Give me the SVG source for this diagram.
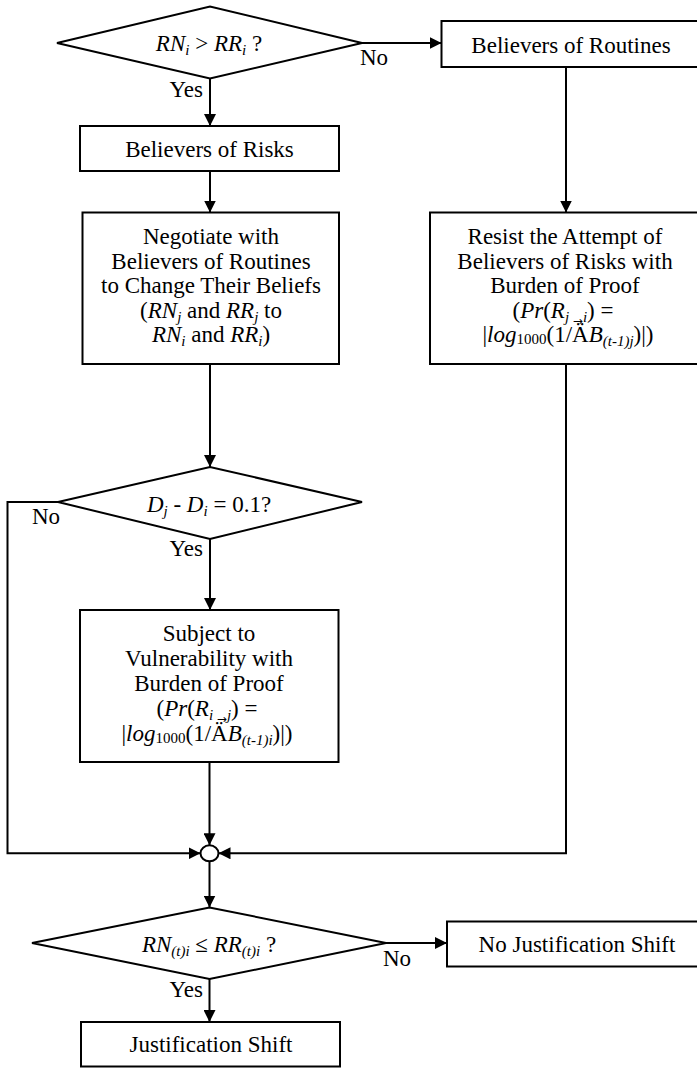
<svg xmlns="http://www.w3.org/2000/svg" width="697" height="1068" viewBox="0 0 697 1068">
<style>
.bx{fill:#fff;stroke:#000;stroke-width:2}
.ln{fill:none;stroke:#000;stroke-width:2}
.t{font-family:"Liberation Serif","Times New Roman",serif;font-size:23px;fill:#000;text-anchor:middle}
.l{font-family:"Liberation Serif","Times New Roman",serif;font-size:23px;fill:#000}
.i{font-style:italic}
.s{font-size:15px}
.a{font-family:"DejaVu Sans",sans-serif;font-size:12px;font-style:normal}
</style>
<defs>
<marker id="ar" markerUnits="userSpaceOnUse" markerWidth="12" markerHeight="12" refX="12" refY="6" orient="auto">
<path d="M0,0 L12,6 L0,12 z" fill="#000"/>
</marker>
</defs>
<rect width="697" height="1068" fill="#fff"/>
<g id="connectors">
<path class="ln" d="M362,43 L441.5,43" marker-end="url(#ar)"/>
<path class="ln" d="M210,78.5 L210,126" marker-end="url(#ar)"/>
<path class="ln" d="M210,171 L210,212.5" marker-end="url(#ar)"/>
<path class="ln" d="M566,67 L566,212.5" marker-end="url(#ar)"/>
<path class="ln" d="M210,364 L210,467" marker-end="url(#ar)"/>
<path class="ln" d="M58,502 L7.5,502 L7.5,853.3 L200.5,853.3" marker-end="url(#ar)"/>
<path class="ln" d="M210,539 L210,610" marker-end="url(#ar)"/>
<path class="ln" d="M209.5,762 L209.5,845.3" marker-end="url(#ar)"/>
<path class="ln" d="M566,364 L566,853.3 L218.5,853.3" marker-end="url(#ar)"/>
<path class="ln" d="M209.5,861.3 L209.5,907.5" marker-end="url(#ar)"/>
<path class="ln" d="M386,943 L447,943" marker-end="url(#ar)"/>
<path class="ln" d="M209.5,979 L209.5,1022" marker-end="url(#ar)"/>
<text class="l" x="360" y="65">No</text>
<text class="l" x="203" y="97" text-anchor="end">Yes</text>
<text class="l" x="32" y="524">No</text>
<text class="l" x="203" y="556" text-anchor="end">Yes</text>
<text class="l" x="383" y="966">No</text>
<text class="l" x="203" y="997" text-anchor="end">Yes</text>
</g>
<g id="d_rn_rr">
<polygon class="bx" points="57,43 210,6.5 362,43 210,78.5"/>
<text class="t" x="209" y="51"><tspan class="i">RN</tspan><tspan class="i s" dy="4">i</tspan><tspan dy="-4"> &gt; </tspan><tspan class="i">RR</tspan><tspan class="i s" dy="4">i</tspan><tspan dy="-4"> ?</tspan></text>
</g>
<g id="n_routines">
<rect class="bx" x="441.5" y="21" width="265" height="46"/>
<text class="t" x="571" y="52.5">Believers of Routines</text>
</g>
<g id="n_risks">
<rect class="bx" x="80" y="126" width="259" height="45"/>
<text class="t" x="209.5" y="156.5">Believers of Risks</text>
</g>
<g id="n_negotiate">
<rect class="bx" x="82.5" y="212.5" width="256.5" height="151.5"/>
<text class="t" x="211" y="244">Negotiate with</text>
<text class="t" x="211" y="269">Believers of Routines</text>
<text class="t" x="211" y="293">to Change Their Beliefs</text>
<text class="t" x="211" y="318">(<tspan class="i">RN</tspan><tspan class="i s" dy="4">j</tspan><tspan dy="-4"> and </tspan><tspan class="i">RR</tspan><tspan class="i s" dy="4">j</tspan><tspan dy="-4"> to</tspan></text>
<text class="t" x="211" y="342"><tspan class="i">RN</tspan><tspan class="i s" dy="4">i</tspan><tspan dy="-4"> and </tspan><tspan class="i">RR</tspan><tspan class="i s" dy="4">i</tspan><tspan dy="-4">)</tspan></text>
</g>
<g id="n_resist">
<rect class="bx" x="430" y="212.5" width="280" height="151.5"/>
<text class="t" x="565" y="244">Resist the Attempt of</text>
<text class="t" x="565" y="269">Believers of Risks with</text>
<text class="t" x="565" y="293">Burden of Proof</text>
<text class="t" x="563" y="318">(<tspan class="i">Pr</tspan>(<tspan class="i">R</tspan><tspan class="i s" dy="4">j </tspan><tspan class="a" dy="3">→</tspan><tspan class="i s" dy="-3">i</tspan><tspan dy="-4">) =</tspan></text>
<text class="t" x="568" y="342">|<tspan class="i">log</tspan><tspan class="s" dy="2">1000</tspan><tspan dy="-2">(1/Ä</tspan><tspan class="i">B</tspan><tspan class="i s" dy="4">(t-1)j</tspan><tspan dy="-4">)|)</tspan></text>
</g>
<g id="d_dj_di">
<polygon class="bx" points="58,502 210,467 362,502 210,539"/>
<text class="t" x="209" y="511.5"><tspan class="i">D</tspan><tspan class="i s" dy="4">j</tspan><tspan dy="-4"> - </tspan><tspan class="i">D</tspan><tspan class="i s" dy="4">i</tspan><tspan dy="-4"> = 0.1?</tspan></text>
</g>
<g id="n_subject">
<rect class="bx" x="80" y="610" width="258.5" height="152"/>
<text class="t" x="209" y="641">Subject to</text>
<text class="t" x="209" y="666">Vulnerability with</text>
<text class="t" x="209" y="691">Burden of Proof</text>
<text class="t" x="207" y="716">(<tspan class="i">Pr</tspan>(<tspan class="i">R</tspan><tspan class="i s" dy="4">i </tspan><tspan class="a" dy="3">→</tspan><tspan class="i s" dy="-3">j</tspan><tspan dy="-4">) =</tspan></text>
<text class="t" x="207" y="741">|<tspan class="i">log</tspan><tspan class="s" dy="2">1000</tspan><tspan dy="-2">(1/Ä</tspan><tspan class="i">B</tspan><tspan class="i s" dy="4">(t-1)i</tspan><tspan dy="-4">)|)</tspan></text>
</g>
<g id="n_merge">
<ellipse class="bx" cx="209.5" cy="853.3" rx="9" ry="8"/>
</g>
<g id="d_rn_rr_t">
<polygon class="bx" points="32,943 209.5,907.5 386,943 209.5,979"/>
<text class="t" x="209" y="951.5"><tspan class="i">RN</tspan><tspan class="i s" dy="4">(t)i</tspan><tspan dy="-4"> ≤ </tspan><tspan class="i">RR</tspan><tspan class="i s" dy="4">(t)i</tspan><tspan dy="-4"> ?</tspan></text>
</g>
<g id="n_nojust">
<rect class="bx" x="447" y="921.5" width="260" height="45"/>
<text class="t" x="577" y="952">No Justification Shift</text>
</g>
<g id="n_just">
<rect class="bx" x="81" y="1022" width="259" height="44.5"/>
<text class="t" x="211" y="1052">Justification Shift</text>
</g>
</svg>
